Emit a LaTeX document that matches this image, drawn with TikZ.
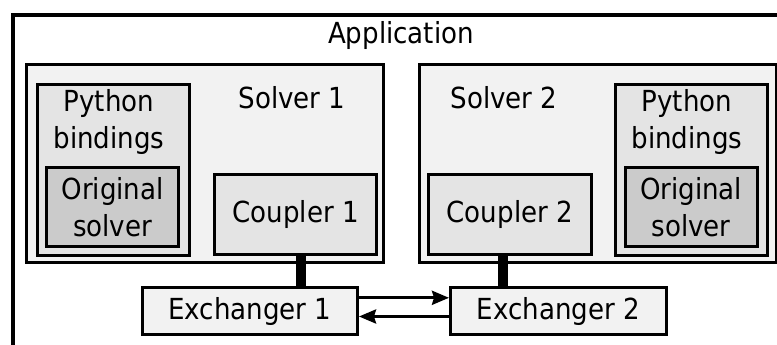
\documentclass[tikz,border=0pt]{standalone}
\usepackage{fontspec}
\setmainfont{DejaVu Sans}[FakeStretch=0.9]
\usetikzlibrary{arrows.meta,calc}

\definecolor{solverfill}{HTML}{F2F2F2}
\definecolor{bindfill}{HTML}{E4E4E4}
\definecolor{origfill}{HTML}{CBCBCB}

\begin{document}
\begin{tikzpicture}[x=1pt,y=-1pt,
  every node/.style={font=\fontsize{29}{37.5}\selectfont, inner sep=0pt},
  box/.style={draw, line width=3pt, rectangle, anchor=north west},
  solverbox/.style={box, fill=solverfill},
  bindbox/.style={box, fill=bindfill},
  origbox/.style={box, fill=origfill, align=center},
  couplerbox/.style={box, fill=bindfill},
  exchbox/.style={box, fill=solverfill},
  caption/.style={anchor=base},
  link/.style={line width=9.5pt},
  flow/.style={line width=3pt, -{Stealth[length=17pt,width=14pt,inset=2pt]}}
]
\useasboundingbox (0,0) rectangle (777,345);
\clip (0,0) rectangle (777,345);

% application frame (runs past the page on the right and bottom)
\node[draw, line width=4pt, anchor=north west, minimum width=900pt, minimum height=400pt] (app) at (11,12.7) {};
\node[caption] (apptitle) at (401,43.3) {Application};

% solver 1
\node[solverbox, minimum width=357.2pt, minimum height=197.7pt] (s1) at (24.5,63.3) {};
\node[caption] (s1title) at (292,108.3) {Solver 1};
\node[bindbox, minimum width=152.5pt, minimum height=171pt] (b1) at (35.5,83) {};
\node[align=center] (b1text) at (109,121.9) {Python\\bindings};
\node[origbox, minimum width=132.3pt, minimum height=79pt] (o1) at (45,166) {Original\\solver};
\node[couplerbox, minimum width=162pt, minimum height=79.2pt] (c1) at (213.3,173.3) {Coupler 1};

% solver 2
\node[solverbox, minimum width=357pt, minimum height=198pt] (s2) at (417.7,63.3) {};
\node[caption] (s2title) at (504,108.3) {Solver 2};
\node[bindbox, minimum width=151.9pt, minimum height=171pt] (b2) at (613.8,83) {};
\node[align=center] (b2text) at (687,121.9) {Python\\bindings};
\node[origbox, minimum width=131.8pt, minimum height=79pt] (o2) at (623.7,166) {Original\\solver};
\node[couplerbox, minimum width=162.7pt, minimum height=79.2pt] (c2) at (427,173.3) {Coupler 2};

% exchangers
\node[exchbox, minimum width=215pt, minimum height=47.2pt] (e1) at (141,286) {Exchanger 1};
\node[exchbox, minimum width=215.7pt, minimum height=47.2pt] (e2) at (449,286) {Exchanger 2};

% coupler to exchanger links
\draw[link] ([xshift=5pt]c1.south) -- ([xshift=5pt]c1.south |- e1.north);
\draw[link] ([xshift=-7pt]c2.south) -- ([xshift=-7pt]c2.south |- e2.north);

% data flow between the exchangers
\draw[flow] ($(e1.east)+(0,-13.3)$) -- ($(e2.west)+(0,-13.3)$);
\draw[flow] ($(e2.west)+(0,5.4)$) -- ($(e1.east)+(0,5.4)$);
\end{tikzpicture}
\end{document}
